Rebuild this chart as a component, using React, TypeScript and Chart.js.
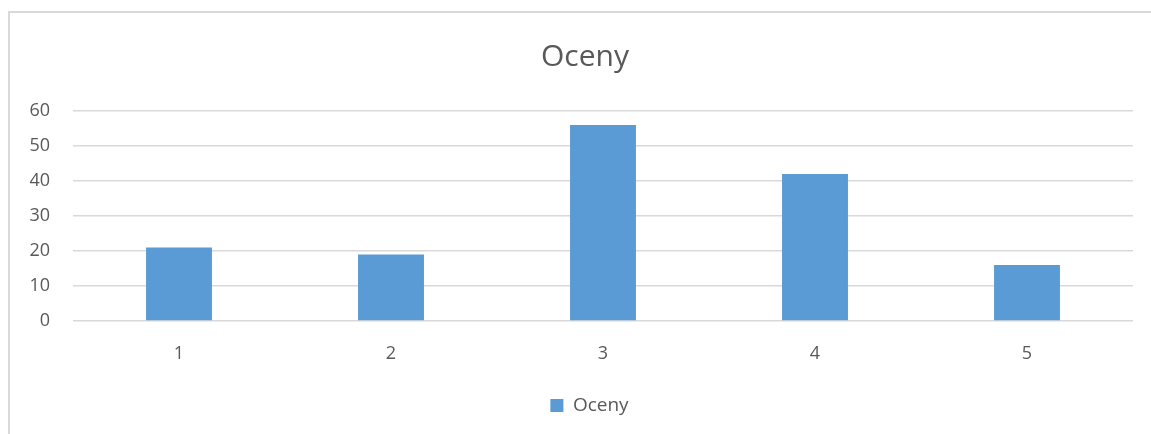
import React, { useEffect, useRef } from "react";
import { Chart, registerables } from "chart.js";

Chart.register(...registerables);

const categories = ["1", "2", "3", "4", "5"];
const seriesName = "Oceny";
const values = [21, 19, 56, 42, 16];
const chartTitle = "Oceny";
const yMin = 0;
const yMax = 60;
const yStep = 10;

const FONT = "'Open Sans', 'Liberation Sans', sans-serif";
const TEXT = "#595959";
const GRID = "#d9d9d9";
const BAR = "#5b9bd5";

const shiftBlocks = {
  id: "shiftBlocks",
  afterLayout(chart: any) {
    if (chart.titleBlock) chart.titleBlock.left += 27;
    if (chart.legend) chart.legend.left += 36;
  },
};

export default function App() {
  const ref = useRef<HTMLCanvasElement>(null);
  useEffect(() => {
    if (!ref.current) return;
    const chart = new Chart(ref.current, {
      type: "bar",
      data: {
        labels: categories,
        datasets: [
          {
            label: seriesName,
            data: values,
            backgroundColor: BAR,
            borderWidth: 0,
            barPercentage: 1,
            categoryPercentage: 0.311,
          },
        ],
      },
      plugins: [shiftBlocks],
      options: {
        animation: false,
        responsive: false,
        maintainAspectRatio: false,
        layout: { padding: { top: 26, right: 18, left: 0, bottom: 9 } },
        plugins: {
          title: {
            display: true,
            text: chartTitle,
            color: TEXT,
            font: { family: FONT, size: 30, weight: "normal" },
            padding: { top: 0, bottom: 36 },
          },
          legend: {
            display: true,
            position: "bottom",
            labels: {
              color: TEXT,
              font: { family: FONT, size: 19 },
              boxWidth: 13,
              boxHeight: 13,
              padding: 10,
            },
          },
          tooltip: { enabled: false },
        },
        scales: {
          x: {
            grid: { display: false },
            border: { display: false },
            ticks: { color: TEXT, font: { family: FONT, size: 18 }, padding: 14 },
            afterFit: (axis: any) => {
              axis.height = 65;
            },
          },
          y: {
            min: yMin,
            max: yMax,
            ticks: {
              stepSize: yStep,
              color: TEXT,
              font: { family: FONT, size: 18 },
              padding: 23,
            },
            grid: { color: GRID, lineWidth: 1.5, drawTicks: false },
            border: { display: false },
            afterFit: (axis: any) => {
              axis.width = 63;
            },
          },
        },
      },
    });
    return () => chart.destroy();
  }, []);

  return (
    <div
      style={{
        position: "fixed",
        left: 8,
        top: 11,
        width: 1143,
        height: 423,
        borderTop: "2px solid #d9d9d9",
        borderLeft: "2px solid #d9d9d9",
        background: "#fff",
      }}
    >
      <canvas ref={ref} width={1141} height={421} style={{ display: "block" }} />
    </div>
  );
}
